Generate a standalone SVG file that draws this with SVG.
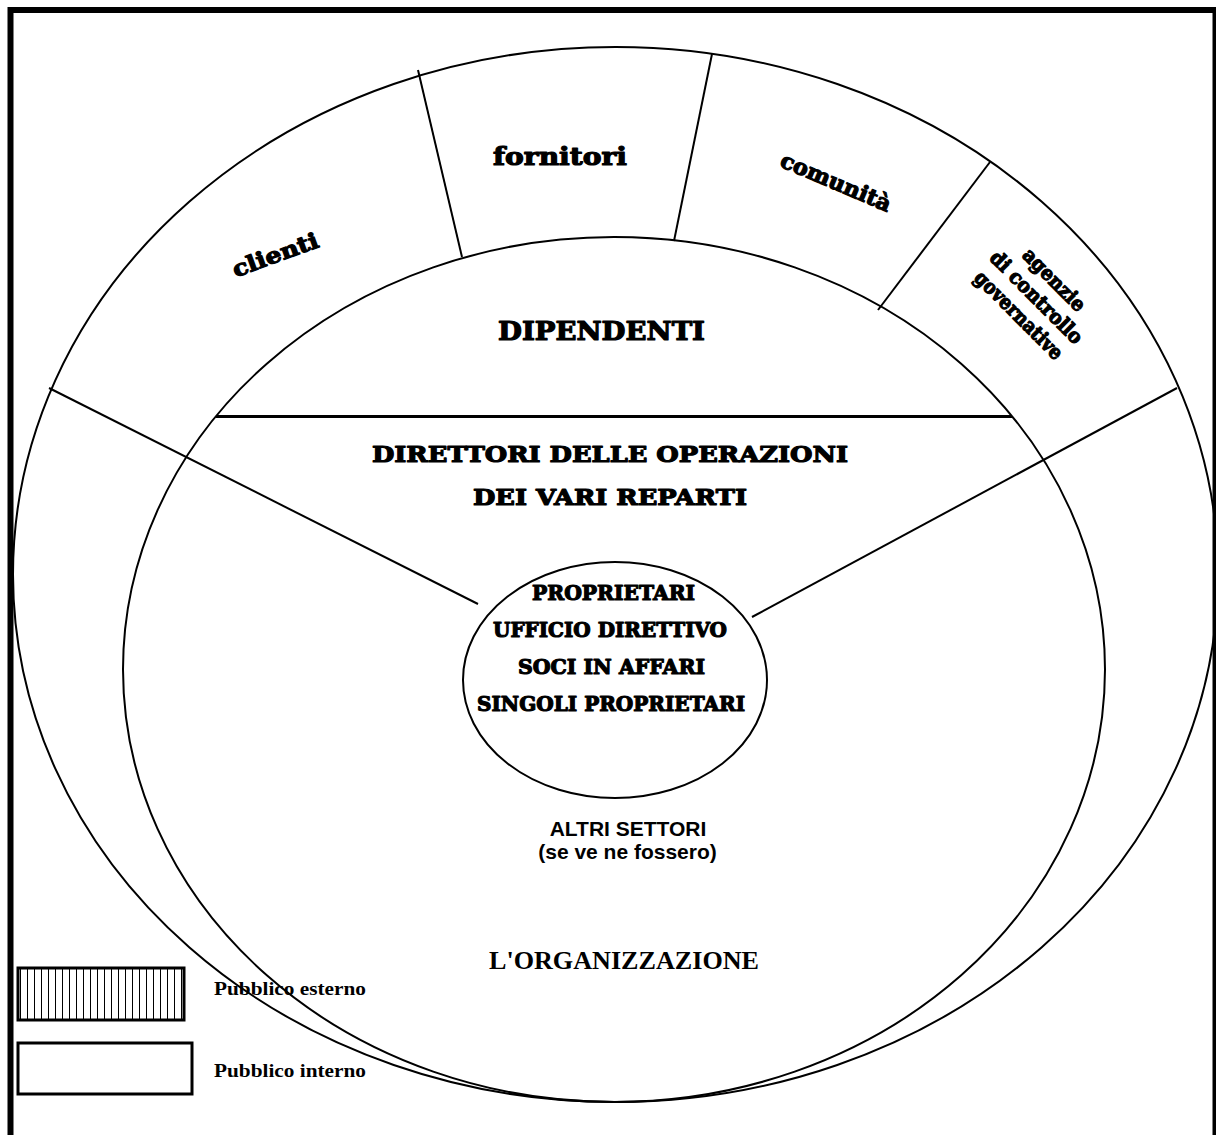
<svg xmlns="http://www.w3.org/2000/svg" width="1216" height="1135" viewBox="0 0 1216 1135">
  <defs>
    <pattern id="vstripes" patternUnits="userSpaceOnUse" x="17" y="0" width="7" height="10">
      <rect width="7" height="10" fill="#fff"/>
      <line x1="3.5" y1="0" x2="3.5" y2="10" stroke="#000" stroke-width="1"/>
    </pattern>
  </defs>
  <style>
    .ring { fill: none; stroke: #000; stroke-width: 2; }
    .conn { stroke: #000; stroke-width: 2; fill: none; }
    .heavy { font-family: "DejaVu Serif", "Liberation Serif", serif; font-weight: bold; fill: #000; stroke: #000; stroke-width: 1.2; stroke-linejoin: round; text-anchor: middle; }
    .sans { font-family: "Liberation Sans", Arial, sans-serif; font-weight: bold; fill: #000; text-anchor: middle; font-size: 21px; }
    .times { font-family: "Liberation Serif", "Times New Roman", serif; font-weight: bold; fill: #000; }
    .legend-box { stroke: #000; stroke-width: 3; }
  </style>

  <rect width="1216" height="1135" fill="#fff"/>

  <!-- page frame (open at the bottom) -->
  <g id="frame">
    <rect x="10.5" y="10" width="1205" height="1140" fill="none" stroke="#000" stroke-width="6"/>
  </g>

  <!-- outer ring: external publics -->
  <g id="external-publics">
    <ellipse class="ring" cx="615.5" cy="574.5" rx="602.5" ry="527.5"/>
  </g>

  <!-- the organization -->
  <g id="organization">
    <ellipse class="ring" cx="614" cy="669.5" rx="491" ry="432.5"/>
    <text class="times" x="624" y="969" font-size="26" text-anchor="middle" textLength="270" lengthAdjust="spacingAndGlyphs">L'ORGANIZZAZIONE</text>
  </g>

  <!-- owners core -->
  <g id="owners">
    <ellipse class="ring" cx="615" cy="680" rx="152" ry="118" fill="#fff"/>
    <text class="heavy" font-size="21" x="613.5" y="600" textLength="163" lengthAdjust="spacingAndGlyphs">PROPRIETARI</text>
    <text class="heavy" font-size="21" x="610" y="637" textLength="234" lengthAdjust="spacingAndGlyphs">UFFICIO DIRETTIVO</text>
    <text class="heavy" font-size="21" x="611.5" y="674" textLength="187" lengthAdjust="spacingAndGlyphs">SOCI IN AFFARI</text>
    <text class="heavy" font-size="21" x="611" y="711" textLength="268" lengthAdjust="spacingAndGlyphs">SINGOLI PROPRIETARI</text>
  </g>

  <!-- connectors: sector dividers and spokes -->
  <g id="connectors">
    <line class="conn" x1="418" y1="70" x2="462" y2="257"/>
    <line class="conn" x1="712" y1="54" x2="674" y2="241"/>
    <line class="conn" x1="990" y1="162" x2="878" y2="310"/>
    <line class="conn" x1="49" y1="388" x2="478" y2="604"/>
    <line class="conn" x1="1177" y1="388" x2="752" y2="617"/>
    <line stroke="#000" stroke-width="3" x1="216" y1="416.5" x2="1012" y2="416.5"/>
  </g>

  <!-- external sectors -->
  <g id="clienti">
    <text class="heavy" font-size="22" transform="translate(278,262) rotate(-20)" textLength="90" lengthAdjust="spacingAndGlyphs">clienti</text>
  </g>
  <g id="fornitori">
    <text class="heavy" font-size="25" x="560" y="165" textLength="134" lengthAdjust="spacingAndGlyphs">fornitori</text>
  </g>
  <g id="comunita">
    <text class="heavy" font-size="22" transform="translate(833,189) rotate(23)" textLength="118" lengthAdjust="spacingAndGlyphs">comunità</text>
  </g>
  <g id="agenzie">
    <g transform="translate(1036,298) rotate(45)">
      <text class="heavy" font-size="20" x="0" y="-19" textLength="80" lengthAdjust="spacingAndGlyphs">agenzie</text>
      <text class="heavy" font-size="20" x="0" y="6" textLength="122" lengthAdjust="spacingAndGlyphs">di controllo</text>
      <text class="heavy" font-size="20" x="0" y="31" textLength="116" lengthAdjust="spacingAndGlyphs">governative</text>
    </g>
  </g>

  <!-- internal sectors -->
  <g id="dipendenti">
    <text class="heavy" font-size="26" x="601.5" y="340" textLength="207" lengthAdjust="spacingAndGlyphs">DIPENDENTI</text>
  </g>
  <g id="direttori">
    <text class="heavy" font-size="23" x="610" y="462" textLength="476" lengthAdjust="spacingAndGlyphs">DIRETTORI DELLE OPERAZIONI</text>
    <text class="heavy" font-size="23" x="610" y="505" textLength="274" lengthAdjust="spacingAndGlyphs">DEI VARI REPARTI</text>
  </g>
  <g id="altri-settori">
    <text class="sans" x="628" y="836">ALTRI SETTORI</text>
    <text class="sans" x="627.5" y="859">(se ve ne fossero)</text>
  </g>

  <!-- legend -->
  <g id="legend">
    <rect class="legend-box" x="18" y="968" width="166" height="52" fill="url(#vstripes)"/>
    <text class="times" x="214" y="995" font-size="19" textLength="152" lengthAdjust="spacingAndGlyphs">Pubblico esterno</text>
    <rect class="legend-box" x="18" y="1043" width="174" height="51" fill="#fff"/>
    <text class="times" x="214" y="1077" font-size="19" textLength="152" lengthAdjust="spacingAndGlyphs">Pubblico interno</text>
  </g>
</svg>
